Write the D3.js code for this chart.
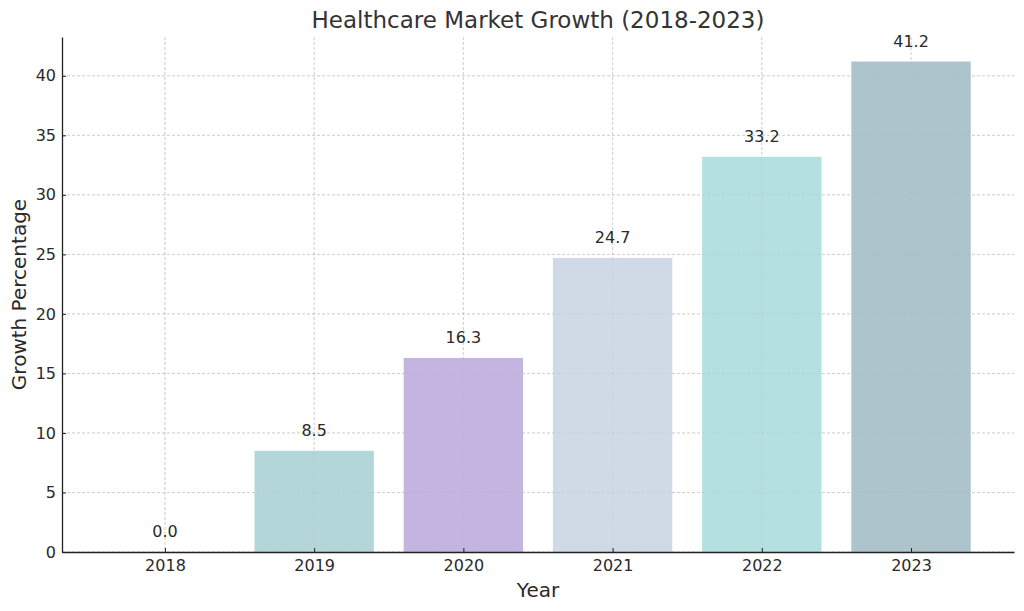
<!DOCTYPE html>
<html><head><meta charset="utf-8">
<script src="https://cdn.jsdelivr.net/npm/d3@7"></script>
<style>body{margin:0;background:#fff;} text{font-family:"DejaVu Sans",sans-serif;}</style>
</head><body>
<svg id="c" width="1024" height="611"></svg>
<script>
const years = ["2018","2019","2020","2021","2022","2023"];
const growth = [0.0, 8.5, 16.3, 24.7, 33.2, 41.2];
const barColors = ["#b3d7d8","#b3d7d8","#c3b4e0","#d0d9e6","#b4e0e1","#adc4cd"];
const yTicks = [0,5,10,15,20,25,30,35,40];

const svg = d3.select("#c");
const L = 62, R = 1014, T = 37, B = 552;
const n = years.length;
const x = d3.scaleLinear().domain([-0.4 - 0.05*(n-0.2), n-1+0.4+0.05*(n-0.2)]).range([L, R]);
const yMax = d3.max(growth)*1.05;
const y = d3.scaleLinear().domain([0, yMax]).range([B, T]);
const bw = x(0.8) - x(0);

function drawGrid(op){
  const g = svg.append("g");
  g.selectAll("line.h").data(yTicks).enter().append("line")
    .attr("x1", L).attr("x2", R).attr("y1", d=>y(d)).attr("y2", d=>y(d))
    .attr("stroke","#b0b0b0").attr("stroke-opacity",op).attr("stroke-width",0.8).attr("stroke-dasharray","3,2");
  g.selectAll("line.v").data(years).enter().append("line")
    .attr("x1",(d,i)=>x(i)).attr("x2",(d,i)=>x(i)).attr("y1",T).attr("y2",B)
    .attr("stroke","#b0b0b0").attr("stroke-opacity",op).attr("stroke-width",0.8).attr("stroke-dasharray","3,2");
}
drawGrid(0.6);

svg.append("g").selectAll("rect").data(growth).enter().append("rect")
  .attr("x",(d,i)=>x(i)-bw/2).attr("width",bw)
  .attr("y",d=>y(d)).attr("height",d=>B-y(d))
  .attr("fill",(d,i)=>barColors[i]);

drawGrid(0.3);

svg.append("g").selectAll("text").data(growth).enter().append("text")
  .attr("x",(d,i)=>x(i)).attr("y",d=>y(d+1)-3)
  .attr("text-anchor","middle").attr("font-size",16).attr("fill","#2a2a2a")
  .text(d=>d.toFixed(1));

const xAxis = d3.axisBottom(x).tickValues(d3.range(n)).tickFormat(i=>years[i]).tickSizeInner(-4).tickSizeOuter(0).tickPadding(8);
const ax = svg.append("g").attr("transform",`translate(0,${B})`).call(xAxis);
ax.attr("font-size",16);
ax.select(".domain").attr("stroke","#222").attr("stroke-width",1.3);
ax.selectAll(".tick line").attr("stroke","#222");
ax.selectAll(".tick text").attr("font-size",16).attr("fill","#2a2a2a").attr("font-family","DejaVu Sans");

const yAxis = d3.axisLeft(y).tickValues(yTicks).tickSizeInner(-4).tickSizeOuter(0).tickPadding(6);
const ay = svg.append("g").attr("transform",`translate(${L},0)`).call(yAxis);
ay.attr("font-size",16);
ay.select(".domain").attr("stroke","#222").attr("stroke-width",1.3);
ay.selectAll(".tick line").attr("stroke","#222");
ay.selectAll(".tick text").attr("font-size",16).attr("fill","#2a2a2a").attr("font-family","DejaVu Sans");

svg.append("text").attr("x",(L+R)/2).attr("y",28).attr("text-anchor","middle")
  .attr("font-size",23).attr("fill","#333").text("Healthcare Market Growth (2018-2023)");
svg.append("text").attr("x",(L+R)/2).attr("y",597).attr("text-anchor","middle")
  .attr("font-size",20).attr("fill","#2a2a2a").text("Year");
svg.append("text").attr("transform",`translate(26,${(T+B)/2}) rotate(-90)`).attr("text-anchor","middle")
  .attr("font-size",20).attr("fill","#2a2a2a").text("Growth Percentage");
</script>
</body></html>
